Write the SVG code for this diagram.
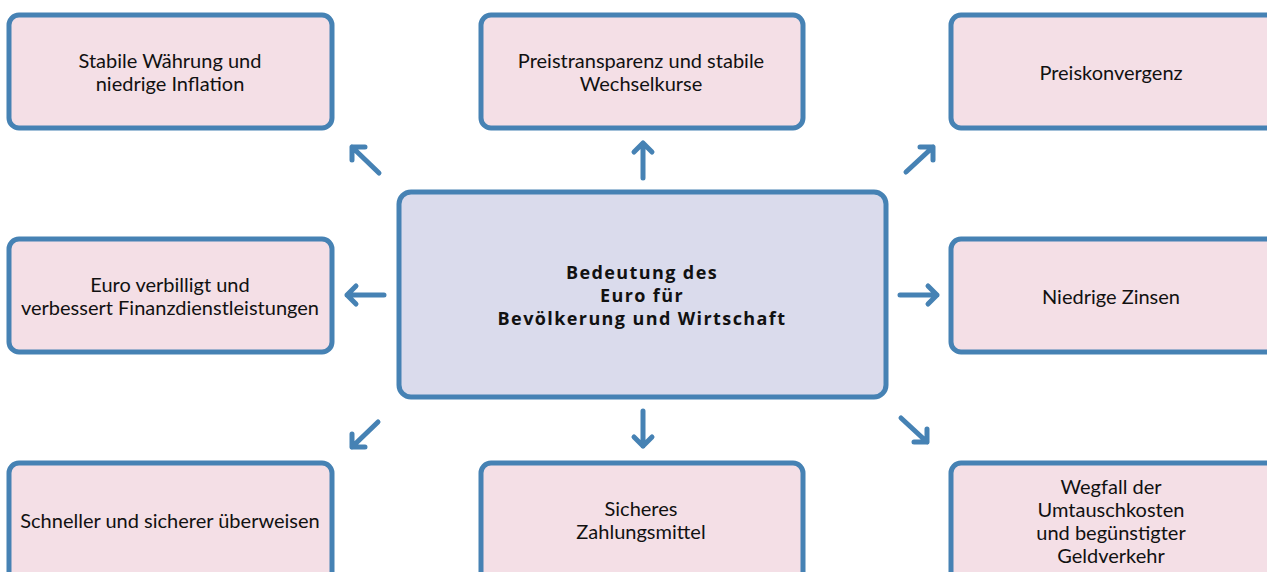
<svg xmlns="http://www.w3.org/2000/svg" width="1267" height="572" viewBox="0 0 1267 572">
<style>
.box{fill:#f4dfe6;stroke:#4682b4;stroke-width:5}
.center{fill:#dadbec;stroke:#4682b4;stroke-width:5}
text{font-family:Lato,"Open Sans","Liberation Sans",sans-serif;font-size:20px;fill:#111;text-anchor:middle}
.b{font-family:"Open Sans",Lato,"Liberation Sans",sans-serif;font-weight:bold;font-size:18px;letter-spacing:1.4px}
.arr{fill:none;stroke:#4682b4;stroke-width:5;stroke-linecap:round;stroke-linejoin:round}
</style>
<rect width="1267" height="572" fill="#fff"/>
<g id="n_center"><rect class="center" x="399" y="192" width="487" height="205" rx="12"/>
<text class="b" x="642" y="279">Bedeutung des</text><text class="b" x="642" y="302">Euro für</text><text class="b" x="642" y="325">Bevölkerung und Wirtschaft</text></g>
<g id="n_tl"><rect class="box" x="9" y="15" width="323" height="113" rx="10"/>
<text x="170" y="68">Stabile Währung und</text><text x="170" y="91">niedrige Inflation</text></g>
<g id="n_tm"><rect class="box" x="481" y="15" width="322" height="113" rx="10"/>
<text x="641" y="68">Preistransparenz und stabile</text><text x="641" y="91">Wechselkurse</text></g>
<g id="n_tr"><rect class="box" x="951" y="15" width="330" height="113" rx="10"/>
<text x="1111" y="80">Preiskonvergenz</text></g>
<g id="n_ml"><rect class="box" x="9" y="239" width="323" height="113" rx="10"/>
<text x="170" y="292">Euro verbilligt und</text><text x="170" y="315">verbessert Finanzdienstleistungen</text></g>
<g id="n_mr"><rect class="box" x="951" y="239" width="330" height="113" rx="10"/>
<text x="1111" y="304">Niedrige Zinsen</text></g>
<g id="n_bl"><rect class="box" x="9" y="463" width="323" height="125" rx="10"/>
<text x="170" y="528">Schneller und sicherer überweisen</text></g>
<g id="n_bm"><rect class="box" x="481" y="463" width="322" height="125" rx="10"/>
<text x="641" y="516">Sicheres</text><text x="641" y="539">Zahlungsmittel</text></g>
<g id="n_br"><rect class="box" x="951" y="463" width="330" height="125" rx="10"/>
<text x="1111" y="494">Wegfall der</text><text x="1111" y="517">Umtauschkosten</text><text x="1111" y="540">und begünstigter</text><text x="1111" y="563">Geldverkehr</text></g>
<g id="connectors">
<path class="arr" d="M379,173 L352,147 M352,147 L352,160 M352,147 L365,147"/>
<path class="arr" d="M643,178 L643,143 M634,152 L643,143 L652,152"/>
<path class="arr" d="M906,172 L933,147 M920,147 L933,147 L933,160"/>
<path class="arr" d="M384,295 L347,295 M356,286 L347,295 L356,304"/>
<path class="arr" d="M900,295 L937,295 M928,286 L937,295 L928,304"/>
<path class="arr" d="M378,422 L352,447 M352,434 L352,447 L365,447"/>
<path class="arr" d="M643,411 L643,446 M634,437 L643,446 L652,437"/>
<path class="arr" d="M901,418 L927,442 M927,429 L927,442 L914,442"/>
</g>
</svg>
